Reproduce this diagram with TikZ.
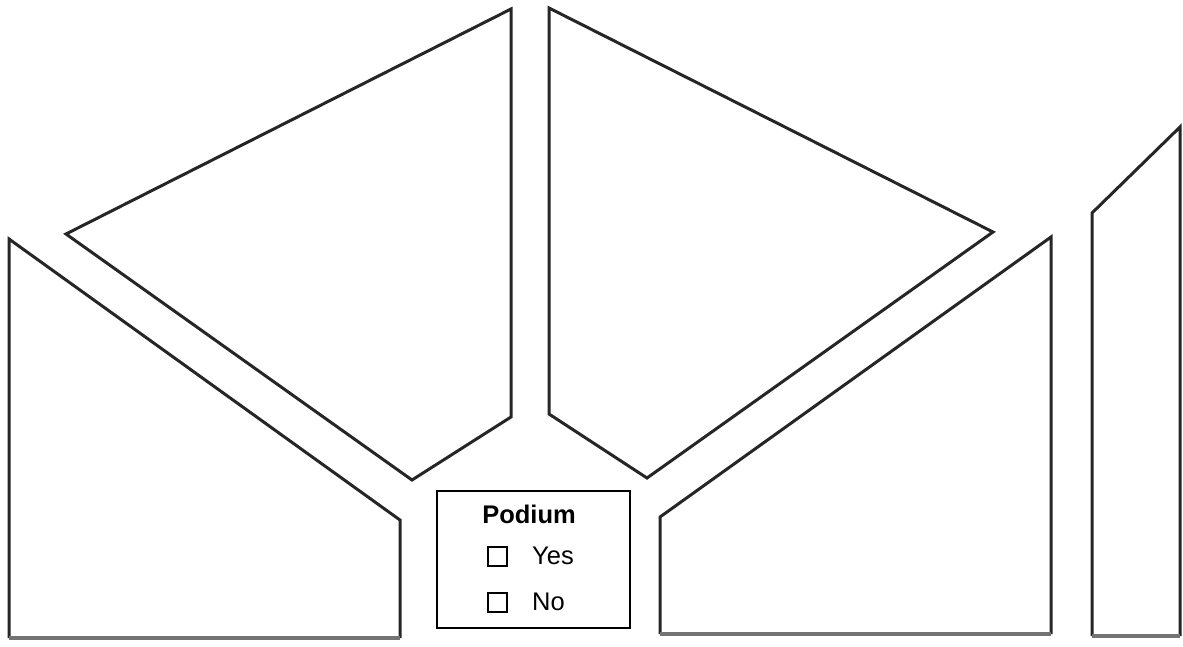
\documentclass[tikz,border=0pt]{standalone}
\usepackage{fontspec}
\setmainfont{Liberation Sans}
\begin{document}
\begin{tikzpicture}[x=1pt,y=-1pt,
  seat/.style={draw=black!85,line width=3pt,line join=miter},
  base/.style={draw=black!55,line width=3.4pt},
  podbox/.style={draw=black,line width=2.4pt},
  chk/.style={draw=black,line width=2pt},
  lbl/.style={font=\fontsize{25.5}{30}\selectfont,anchor=west,inner sep=0pt}]
\useasboundingbox (0,0) rectangle (1183,646);
% left block
\draw[seat] (400,638) -- (400,520) -- (9,239) -- (9,638);
\draw[base] (9,638) -- (400,638);
% top-left block
\draw[seat] (66,234) -- (511,9) -- (511,417) -- (412,480) -- cycle;
% top-right block
\draw[seat] (549,8) -- (993,232) -- (647,478) -- (549,414) -- cycle;
% bottom-right block
\draw[seat] (660,634) -- (660,517) -- (1051,237) -- (1051,634);
\draw[base] (660,634) -- (1051,634);
% far right block
\draw[seat] (1092,636) -- (1092,213) -- (1180,127) -- (1180,636);
\draw[base] (1092,636) -- (1180,636);
% podium
\node[podbox,minimum width=193pt,minimum height=137pt,inner sep=0pt] (pod) at (533.5,559.5) {};
\node[font=\bfseries\fontsize{25.5}{30}\selectfont,inner sep=0pt] (podt) at (529,514) {Podium};
\node[chk,minimum size=19pt,inner sep=0pt] (cy) at (497,556) {};
\node[lbl] (ty) at (532,556) {Yes};
\node[chk,minimum size=19pt,inner sep=0pt] (cn) at (497,602) {};
\node[lbl] (tn) at (532,602) {No};
\end{tikzpicture}
\end{document}
